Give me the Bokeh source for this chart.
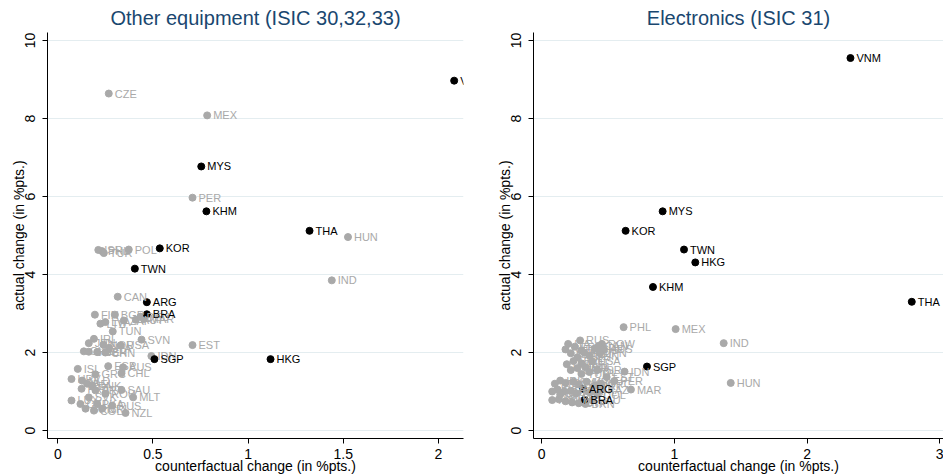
from bokeh.plotting import figure
from bokeh.layouts import row
from bokeh.models import ColumnDataSource, Range1d, FixedTicker, LabelSet
from bokeh.core.properties import value
from bokeh.embed import file_html
from bokeh.resources import INLINE

# ---------------- Data: Other equipment (ISIC 30,32,33) ----------------
oe_hi_code = ["VNM", "MYS", "KHM", "THA", "KOR", "TWN", "ARG", "BRA", "SGP", "HKG"]
oe_hi_x = [2.083, 0.754, 0.781, 1.323, 0.536, 0.405, 0.468, 0.468, 0.508, 1.118]
oe_hi_y = [8.97, 6.77, 5.62, 5.12, 4.67, 4.15, 3.29, 2.98, 1.83, 1.83]

oe_lo_code = ["CZE", "MEX", "PER", "HUN", "IND", "EST", "POL", "ISR", "PHL", "TUR",
              "CAN", "FIN", "BGR", "LTU", "LVA", "ZAF", "AUT", "DEU", "MAR", "TUN",
              "SVN", "IRL", "JPN", "NOR", "USA", "ITA", "CHE", "SWE", "GBR", "CHN",
              "IDN", "ISL", "ESP", "AUS", "GRC", "CHL", "HRV", "NLD", "BEL", "DNK",
              "FRA", "PRT", "ROU", "SAU", "MLT", "SVK", "LUX", "CYP", "BRN", "COL",
              "CRI", "RUS", "NZL", "LKA"]
oe_lo_x = [0.268, 0.785, 0.708, 1.525, 1.440, 0.708, 0.373, 0.213, 0.232, 0.242,
           0.315, 0.195, 0.300, 0.224, 0.250, 0.347, 0.410, 0.435, 0.452, 0.289,
           0.440, 0.190, 0.163, 0.240, 0.330, 0.270, 0.137, 0.163, 0.207, 0.250,
           0.492, 0.105, 0.265, 0.343, 0.198, 0.335, 0.072, 0.128, 0.154, 0.180,
           0.125, 0.198, 0.250, 0.335, 0.396, 0.163, 0.072, 0.119, 0.146, 0.190,
           0.233, 0.286, 0.356, 0.207]
oe_lo_y = [8.64, 8.08, 5.97, 4.96, 3.85, 2.19, 4.64, 4.63, 4.60, 4.55,
           3.43, 2.97, 2.97, 2.74, 2.78, 2.82, 2.84, 2.92, 2.86, 2.54,
           2.33, 2.35, 2.24, 2.20, 2.18, 2.12, 2.03, 2.02, 2.01, 2.00,
           1.91, 1.58, 1.65, 1.62, 1.44, 1.47, 1.32, 1.28, 1.20, 1.15,
           1.07, 1.03, 0.94, 1.04, 0.85, 0.85, 0.77, 0.68, 0.56, 0.51,
           0.56, 0.64, 0.45, 0.68]

# ---------------- Data: Electronics (ISIC 31) ----------------
el_hi_code = ["VNM", "MYS", "KOR", "TWN", "HKG", "KHM", "THA", "SGP", "ARG", "BRA"]
el_hi_x = [2.327, 0.912, 0.633, 1.073, 1.158, 0.839, 2.789, 0.794, 0.312, 0.324]
el_hi_y = [9.55, 5.62, 5.12, 4.64, 4.31, 3.68, 3.30, 1.64, 1.07, 0.79]

el_lo_code = ["PHL", "MEX", "IND", "HUN", "IDN", "MAR", "PER", "EST",
              "RUS", "ROW", "CAN", "AUS", "JPN", "USA", "CHN", "DEU", "FRA", "ITA",
              "GBR", "NLD", "ESP", "BEL", "CHE", "SWE", "AUT", "DNK", "FIN", "NOR",
              "ISR", "POL", "CZE", "TUR", "IRL", "LTU", "LVA", "SVK", "SVN", "HRV",
              "PRT", "GRC", "BGR", "ROU", "TUN", "ZAF", "CHL", "COL", "NZL", "ISL",
              "LUX", "MLT", "CYP", "SAU", "BRN", "CRI", "KAZ", "LKA"]
el_lo_x = [0.618, 1.010, 1.372, 1.425, 0.625, 0.673, 0.548, 0.490,
           0.290, 0.455, 0.430, 0.470, 0.440, 0.380, 0.360, 0.300, 0.250, 0.200,
           0.220, 0.180, 0.270, 0.320, 0.400, 0.240, 0.300, 0.190, 0.330, 0.270,
           0.420, 0.360, 0.220, 0.300, 0.140, 0.100, 0.180, 0.240, 0.280, 0.340,
           0.400, 0.450, 0.120, 0.170, 0.220, 0.260, 0.360, 0.420, 0.080, 0.130,
           0.180, 0.230, 0.280, 0.380, 0.330, 0.140, 0.450, 0.080]
el_lo_y = [2.65, 2.60, 2.24, 1.22, 1.51, 1.05, 1.27, 1.37,
           2.31, 2.22, 2.17, 2.08, 1.98, 1.78, 1.92, 2.05, 2.15, 2.22,
           1.98, 2.08, 1.88, 2.00, 2.10, 1.78, 1.72, 1.70, 1.62, 1.60,
           1.55, 1.50, 1.55, 1.45, 1.28, 1.20, 1.22, 1.25, 1.18, 1.25,
           1.15, 1.20, 1.05, 1.00, 1.02, 0.95, 0.98, 0.92, 0.78, 0.80,
           0.75, 0.72, 0.70, 0.78, 0.68, 0.92, 1.05, 1.00]

y_ticks = [0, 2, 4, 6, 8, 10]
oe_x_ticks = [0, 0.5, 1, 1.5, 2]
el_x_ticks = [0, 1, 2, 3]

FONT = "Liberation Sans"
GRAY = "#a9a9a9"
TITLE_COLOR = "#1a476f"


def panel(title, frame_w, xr, xticks, border_left, border_right,
          hi_code, hi_x, hi_y, lo_code, lo_x, lo_y):
    p = figure(frame_width=frame_w, frame_height=406,
               output_backend="svg", toolbar_location=None,
               x_range=Range1d(*xr), y_range=Range1d(-0.205, 10.205),
               min_border_left=border_left, min_border_right=border_right,
               min_border_top=32, min_border_bottom=38)
    p.title.text = title
    p.title.align = "center"
    p.title.text_font = FONT
    p.title.text_font_size = "20px"
    p.title.text_font_style = "normal"
    p.title.text_color = TITLE_COLOR
    p.title.standoff = 8
    p.outline_line_color = None
    p.background_fill_color = "white"
    p.border_fill_color = "white"

    p.xgrid.visible = False
    p.ygrid.ticker = FixedTicker(ticks=y_ticks)
    p.ygrid.grid_line_color = "#e4edf0"
    p.ygrid.grid_line_width = 1

    p.xaxis.ticker = FixedTicker(ticks=xticks)
    p.yaxis.ticker = FixedTicker(ticks=y_ticks)
    p.xaxis.axis_label = "counterfactual change (in %pts.)"
    p.yaxis.axis_label = "actual change (in %pts.)"
    p.yaxis.major_label_orientation = "vertical"
    for ax in (p.xaxis[0], p.yaxis[0]):
        ax.axis_label_text_font = FONT
        ax.axis_label_text_font_size = "14px"
        ax.axis_label_text_font_style = "normal"
        ax.axis_label_text_color = "black"
        ax.major_label_text_font = FONT
        ax.major_label_text_font_size = "14px"
        ax.major_label_text_color = "black"
        ax.major_tick_out = 5
        ax.major_tick_in = 0
        ax.minor_tick_out = 0
        ax.minor_tick_in = 0
        ax.axis_line_color = "black"
        ax.major_tick_line_color = "black"
    p.xaxis.major_label_standoff = 5
    p.xaxis.axis_label_standoff = -4
    p.yaxis.major_label_standoff = 7
    p.yaxis.axis_label_standoff = -4

    lo = ColumnDataSource(dict(x=lo_x, y=lo_y, code=lo_code))
    hi = ColumnDataSource(dict(x=hi_x, y=hi_y, code=hi_code))

    p.scatter("x", "y", source=lo, size=7, marker="circle",
              fill_color=GRAY, line_color=GRAY)
    p.add_layout(LabelSet(x="x", y="y", text="code", source=lo, x_offset=6,
                          text_baseline="middle", text_align="left",
                          text_font=value(FONT), text_font_size=value("11px"),
                          text_color=GRAY))
    p.scatter("x", "y", source=hi, size=7, marker="circle",
              fill_color="black", line_color="black")
    p.add_layout(LabelSet(x="x", y="y", text="code", source=hi, x_offset=6,
                          text_baseline="middle", text_align="left",
                          text_font=value(FONT), text_font_size=value("11px"),
                          text_color="black"))
    return p


left = panel("Other equipment (ISIC 30,32,33)", 416, (-0.054, 2.132), oe_x_ticks, 47, 13,
             oe_hi_code, oe_hi_x, oe_hi_y, oe_lo_code, oe_lo_x, oe_lo_y)
right = panel("Electronics (ISIC 31)", 410, (-0.061, 3.028), el_x_ticks, 57, 0,
              el_hi_code, el_hi_x, el_hi_y, el_lo_code, el_lo_x, el_lo_y)

layout = row(left, right)
open("out.html", "w").write(file_html(layout, INLINE))
